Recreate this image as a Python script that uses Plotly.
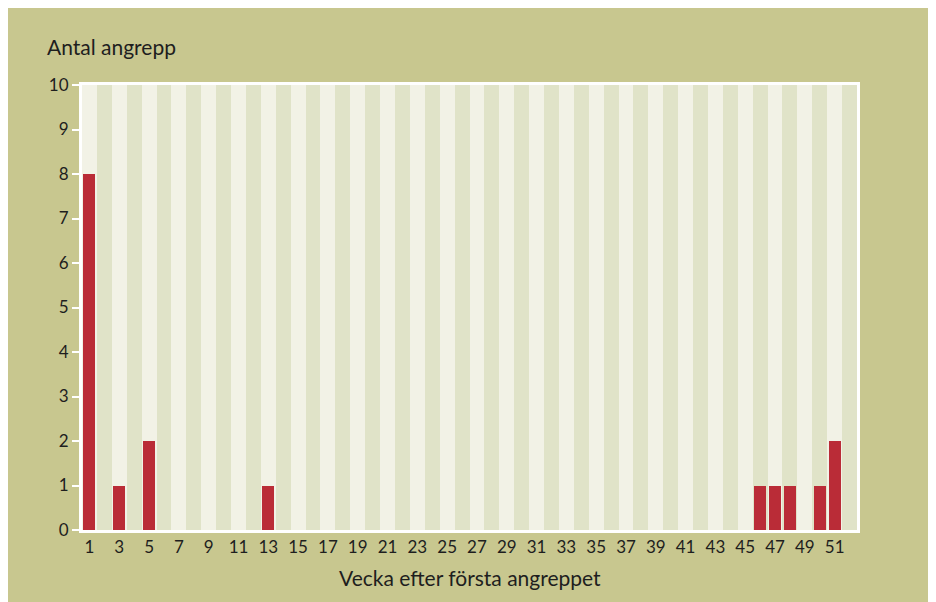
import plotly.graph_objects as go

# Attacks per week after the first attack
weeks = list(range(1, 53))
attacks = [8, 0, 1, 0, 2, 0, 0, 0, 0, 0,
           0, 0, 1, 0, 0, 0, 0, 0, 0, 0,
           0, 0, 0, 0, 0, 0, 0, 0, 0, 0,
           0, 0, 0, 0, 0, 0, 0, 0, 0, 0,
           0, 0, 0, 0, 0, 1, 1, 1, 0, 1,
           2, 0]
x_ticks = list(range(1, 52, 2))
y_max = 10

olive = "#c8c78f"
light = "#f2f2e6"
dark = "#e0e3c8"
red = "#ba2c37"
font = "Lato"
ink = "#1e1e1e"

# figure sits 8px in from the page corner (body margin)
W, H = 924, 594
L, T = 74, 77
pw, ph = 775, 445
R, B = W - L - pw, H - T - ph

def px(x):
    return (x - 8 - L) / pw

def py(y):
    return (T + ph - (y - 8)) / ph

fig = go.Figure()

# alternating background stripes, one per week
fig.add_trace(go.Bar(
    x=weeks, y=[y_max] * len(weeks), width=1,
    marker=dict(color=[light if w % 2 else dark for w in weeks], line=dict(width=0)),
    hoverinfo="skip", showlegend=False
))

fig.add_trace(go.Bar(
    x=weeks, y=attacks, width=0.8,
    marker=dict(color=red, line=dict(width=0)),
    name="Antal angrepp", showlegend=False
))

fig.add_annotation(
    x=px(45), y=py(46), xref="paper", yref="paper",
    xanchor="left", yanchor="middle", showarrow=False,
    text="Antal angrepp", font=dict(family=font, size=21, color=ink)
)
fig.add_annotation(
    x=px(470), y=py(577), xref="paper", yref="paper",
    xanchor="center", yanchor="middle", showarrow=False,
    text="Vecka efter första angreppet", font=dict(family=font, size=21, color=ink)
)

fig.update_layout(
    width=W, height=H,
    margin=dict(l=L, r=R, t=T, b=B),
    paper_bgcolor=olive, plot_bgcolor=light,
    barmode="overlay", bargap=0,
    font=dict(family=font, size=17, color=ink),
)
fig.update_xaxes(
    range=[0.5, 52.5], tickvals=x_ticks, ticks="", showgrid=False, zeroline=False,
    showline=True, linecolor="white", linewidth=3, mirror=True,
    tickfont=dict(size=17)
)
fig.update_yaxes(
    range=[0, y_max], dtick=1, ticks="outside", ticklen=7, tickwidth=2, tickcolor="white",
    showgrid=False, zeroline=False,
    showline=True, linecolor="white", linewidth=3, mirror=True,
    tickfont=dict(size=17)
)

fig.write_html("out.html")
